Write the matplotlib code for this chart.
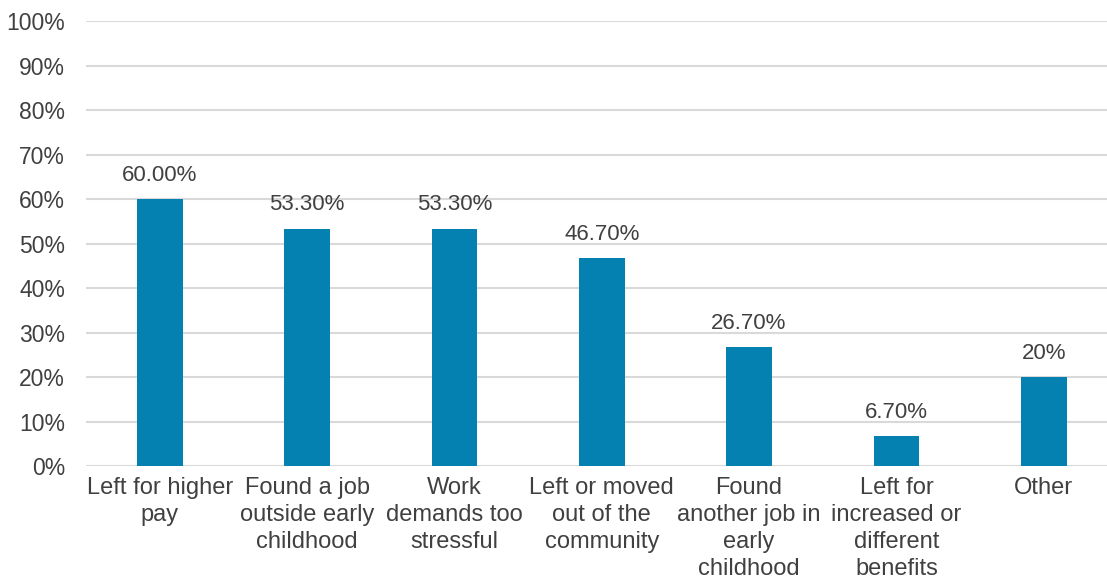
import matplotlib.pyplot as plt
from matplotlib.ticker import PercentFormatter

plt.rcParams['font.family'] = ['Liberation Sans', 'DejaVu Sans']

categories = ["Left for higher\npay", "Found a job\noutside early\nchildhood",
              "Work\ndemands too\nstressful", "Left or moved\nout of the\ncommunity",
              "Found\nanother job in\nearly\nchildhood", "Left for\nincreased or\ndifferent\nbenefits",
              "Other"]
values = [60.0, 53.3, 53.3, 46.7, 26.7, 6.7, 20]
labels = ["60.00%", "53.30%", "53.30%", "46.70%", "26.70%", "6.70%", "20%"]

fig = plt.figure(figsize=(11.07, 5.85), dpi=100)
ax = fig.add_axes([0.0777, 0.2034, 0.9317, 0.7607])

x = range(len(categories))
bars = ax.bar(x, values, width=0.31, color='#0481b0', zorder=3)

for b, lab in zip(bars, labels):
    ax.text(b.get_x() + b.get_width() / 2, b.get_height() + 3.0, lab,
            ha='center', va='bottom', fontsize=16, color='#404040')

ax.set_xlim(-0.5, len(categories) - 0.5)
ax.set_ylim(0, 100)
ax.set_yticks(range(0, 101, 10))
ax.yaxis.set_major_formatter(PercentFormatter(decimals=0))
ax.set_xticks(list(x))
ax.set_xticklabels(categories, fontsize=17, color='#404040', linespacing=1.3)
ax.tick_params(axis='y', labelsize=16.5, labelcolor='#404040', length=0, pad=15)
ax.tick_params(axis='x', length=0, pad=8)
ax.grid(axis='y', color='#d9d9d9', linewidth=1.5, zorder=0)
for s in ax.spines.values():
    s.set_visible(False)

fig.savefig('out.png', dpi=100)
